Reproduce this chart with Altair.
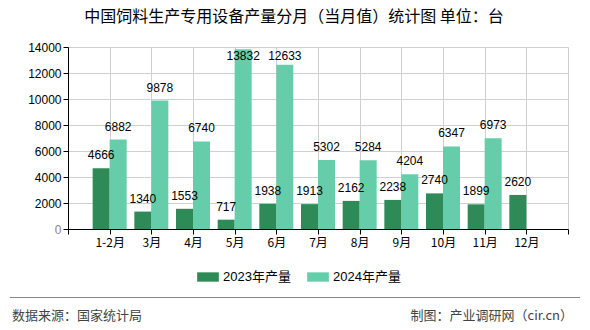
import altair as alt
import pandas as pd

months = ["1-2月", "3月", "4月", "5月", "6月", "7月", "8月", "9月", "10月", "11月", "12月"]
v2023 = [4666, 1340, 1553, 717, 1938, 1913, 2162, 2238, 2740, 1899, 2620]
v2024 = [6882, 9878, 6740, 13832, 12633, 5302, 5284, 4204, 6347, 6973, None]
series = ["2023年产量", "2024年产量"]
colors = ["#2E8B57", "#66CDAA"]

FONT = "'Liberation Sans', 'Noto Sans CJK SC', sans-serif"
CJK = "'Noto Sans CJK SC', sans-serif"

rows = []
for i, m in enumerate(months):
    for s, vals in zip(series, [v2023, v2024]):
        if vals[i] is not None:
            rows.append({"month": m, "idx": i + 1, "series": s, "value": vals[i]})
df = pd.DataFrame(rows)

W, H = 500, 182
BW = 0.408  # bar width as a fraction of the slot

label_arr = "[''," + ",".join("'%s'" % m for m in months) + ",'']"

base = alt.Chart(df).transform_calculate(
    x0=f"datum.series == '{series[0]}' ? datum.idx - {BW} : datum.idx",
    x1=f"datum.series == '{series[0]}' ? datum.idx : datum.idx + {BW}",
    xc=f"datum.series == '{series[0]}' ? datum.idx - {BW/2} : datum.idx + {BW/2}",
    ly="min(datum.value, 12280)",
    y0="0",
)

xscale = alt.Scale(domain=[0, 12], nice=False, zero=False)
yscale = alt.Scale(domain=[0, 14000], nice=False, zero=True)

xaxis = alt.Axis(
    values=list(range(13)),
    labelExpr=f"{label_arr}[datum.value]",
    grid=True,
    gridColor="#d0d0d0",
    domainColor="#000000",
    tickColor="#000000",
    tickSize=5,
    labelPadding=3,
    labelFont=CJK,
    labelFontSize=12,
    labelColor="#000000",
    labelFlush=False,
    labelOverlap=False,
    title=None,
)
yaxis = alt.Axis(
    values=list(range(0, 14001, 2000)),
    format="d",
    grid=True,
    gridColor="#d0d0d0",
    domainColor="#000000",
    tickColor="#000000",
    tickSize=5,
    labelPadding=2,
    labelFont=FONT,
    labelFontSize=12,
    labelOverlap=False,
    labelFlush=False,
    labelColor=alt.ExprRef("datum.value == 0 ? '#888888' : '#000000'"),
    title=None,
)

bars = base.mark_bar().encode(
    x=alt.X("x0:Q", scale=xscale, axis=xaxis),
    x2="x1:Q",
    y=alt.Y("value:Q", scale=yscale, axis=yaxis),
    y2="y0:Q",
    color=alt.Color(
        "series:N",
        scale=alt.Scale(domain=series, range=colors),
        legend=alt.Legend(
            title=None,
            orient="none",
            direction="horizontal",
            legendX=129,
            legendY=219,
            symbolType="M-1,-0.43L1,-0.43L1,0.43L-1,0.43Z",
            symbolSize=471,
            symbolStrokeWidth=0,
            labelFont=FONT,
            labelFontSize=13,
            labelColor="#000000",
            labelOffset=4,
            columnPadding=16,
        ),
    ),
)

labels = base.mark_text(
    baseline="middle", dy=-13, fontSize=12, font=FONT, color="#000000"
).encode(
    x=alt.X("xc:Q", scale=xscale, axis=xaxis),
    y=alt.Y("ly:Q", scale=yscale, axis=yaxis),
    text=alt.Text("value:Q"),
)

meta = pd.DataFrame({"k": [0]})

title = alt.Chart(meta).mark_text(
    text="中国饲料生产专用设备产量分月（当月值）统计图 单位：台",
    font=CJK, fontSize=16, color="#000000", align="center", baseline="middle",
).encode(x=alt.value(226), y=alt.value(-30))

rule = alt.Chart(meta).mark_rule(color="#888888", strokeWidth=1.2).encode(
    x=alt.value(-58), x2=alt.value(512), y=alt.value(250.5)
)

src = alt.Chart(meta).mark_text(
    text="数据来源：国家统计局", font=CJK, fontSize=13, color="#444444",
    align="left", baseline="middle",
).encode(x=alt.value(-56), y=alt.value(269))

maker = alt.Chart(meta).mark_text(
    text="制图：产业调研网（cir.cn）", font=CJK, fontSize=13, color="#444444",
    align="right", baseline="middle",
).encode(x=alt.value(505), y=alt.value(269))

chart = alt.layer(bars, labels, title, rule, src, maker).properties(
    width=W,
    height=H,
    autosize=alt.AutoSizeParams(type="none"),
    padding={"left": 68, "top": 47, "right": 22, "bottom": 101},
).configure_view(stroke=None).configure(background="#ffffff")

chart.save("out.html", embed_options={"renderer": "svg", "actions": False})
